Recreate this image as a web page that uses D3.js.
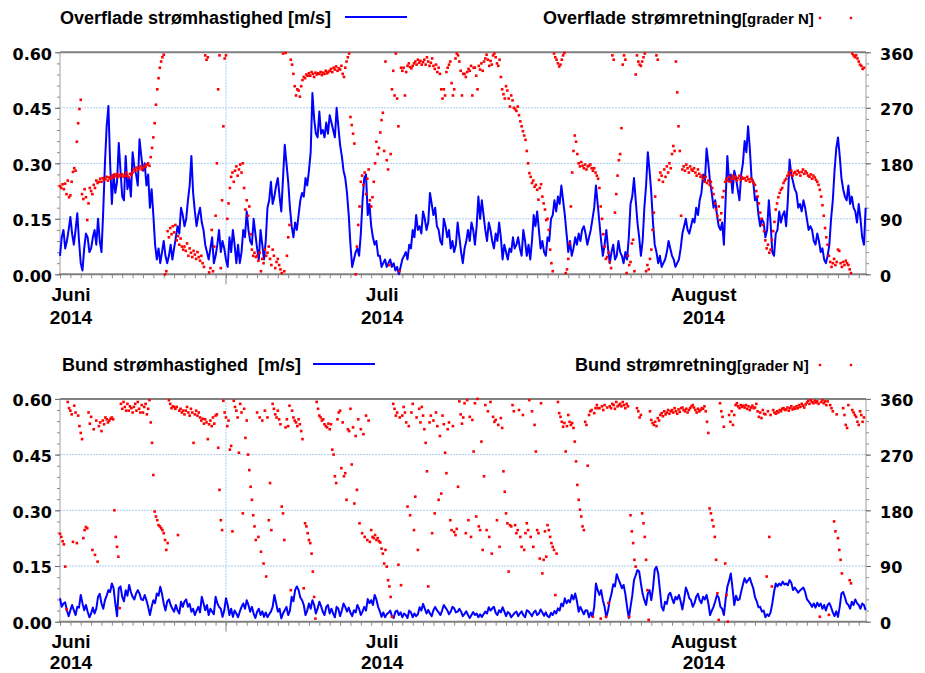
<!DOCTYPE html>
<html lang="no">
<head>
<meta charset="utf-8">
<title>Strømhastighed og strømretning, juni - august 2014</title>
<script src="https://d3js.org/d3.v7.min.js"></script>
<style>
  body { margin: 0; background: #fff; }
  svg { display: block; }
  .title { font-family: "Liberation Sans", Arial, sans-serif; font-weight: bold; font-size: 18px; white-space: pre; }
  .ylab text { font-family: "DejaVu Sans", Verdana, sans-serif; font-weight: bold; font-size: 16px; fill: #000; }
  .xlab { font-family: "Liberation Sans", Arial, sans-serif; font-weight: bold; font-size: 19px; }
</style>
</head>
<body>
<script>
// ---- data: time is hours since 1 June 2014 00:00 ----
var speedStep = 4;   // hours between speed samples
var dirStep = 3;     // hours between direction samples

// surface speed [m/s], every 4 h
var overSpeed = [
  0.05, 0.10, 0.12, 0.07, 0.09, 0.12, 0.155, 0.11, 0.08, 0.12,
  0.165, 0.09, 0.03, 0.01, 0.07, 0.11, 0.10, 0.06, 0.07, 0.10,
  0.12, 0.08, 0.15, 0.09, 0.06, 0.17, 0.30, 0.40, 0.455, 0.30,
  0.19, 0.27, 0.22, 0.25, 0.355, 0.28, 0.21, 0.20, 0.32, 0.23,
  0.26, 0.21, 0.33, 0.29, 0.27, 0.24, 0.365, 0.32, 0.28, 0.30,
  0.24, 0.27, 0.18, 0.23, 0.16, 0.08, 0.04, 0.07, 0.03, 0.06,
  0.09, 0.05, 0.03, 0.05, 0.08, 0.04, 0.07, 0.10, 0.13, 0.11,
  0.18, 0.16, 0.13, 0.15, 0.20, 0.24, 0.32, 0.22, 0.17, 0.13,
  0.16, 0.18, 0.14, 0.12, 0.08, 0.06, 0.04, 0.07, 0.10, 0.03,
  0.05, 0.08, 0.12, 0.06, 0.09, 0.07, 0.04, 0.02, 0.10, 0.06,
  0.12, 0.08, 0.03, 0.08, 0.03, 0.06, 0.12, 0.10, 0.17, 0.12,
  0.09, 0.08, 0.15, 0.11, 0.07, 0.04, 0.12, 0.08, 0.04, 0.09,
  0.18, 0.20, 0.25, 0.19, 0.21, 0.24, 0.26, 0.21, 0.17, 0.26,
  0.35, 0.30, 0.25, 0.18, 0.13, 0.10, 0.14, 0.12, 0.16, 0.20,
  0.22, 0.21, 0.26, 0.24, 0.28, 0.33, 0.49, 0.42, 0.38, 0.37,
  0.44, 0.38, 0.39, 0.37, 0.41, 0.38, 0.43, 0.41, 0.39, 0.37,
  0.45, 0.40, 0.35, 0.32, 0.28, 0.26, 0.22, 0.16, 0.08, 0.02,
  0.04, 0.06, 0.07, 0.05, 0.11, 0.20, 0.26, 0.27, 0.16, 0.19,
  0.13, 0.10, 0.08, 0.09, 0.05, 0.05, 0.02, 0.03, 0.04, 0.02,
  0.03, 0.04, 0.02, 0.03, 0.01, 0.02, 0.00, 0.02, 0.04, 0.05,
  0.06, 0.04, 0.08, 0.07, 0.12, 0.10, 0.16, 0.12, 0.13, 0.11,
  0.17, 0.15, 0.12, 0.14, 0.22, 0.19, 0.16, 0.18, 0.13, 0.12,
  0.09, 0.08, 0.15, 0.13, 0.10, 0.12, 0.07, 0.09, 0.06, 0.08,
  0.14, 0.10, 0.06, 0.03, 0.07, 0.09, 0.12, 0.09, 0.14, 0.12,
  0.08, 0.13, 0.21, 0.15, 0.20, 0.16, 0.12, 0.09, 0.14, 0.12,
  0.09, 0.07, 0.11, 0.09, 0.14, 0.10, 0.04, 0.08, 0.06, 0.04,
  0.07, 0.06, 0.10, 0.07, 0.08, 0.10, 0.07, 0.05, 0.12, 0.09,
  0.05, 0.08, 0.04, 0.09, 0.16, 0.13, 0.17, 0.12, 0.07, 0.09,
  0.06, 0.05, 0.10, 0.09, 0.15, 0.16, 0.20, 0.17, 0.21, 0.19,
  0.24, 0.20, 0.16, 0.11, 0.06, 0.09, 0.05, 0.07, 0.10, 0.08,
  0.11, 0.09, 0.12, 0.13, 0.11, 0.08, 0.10, 0.12, 0.15, 0.18,
  0.24, 0.19, 0.14, 0.09, 0.05, 0.08, 0.12, 0.07, 0.03, 0.06,
  0.08, 0.04, 0.05, 0.09, 0.06, 0.05, 0.03, 0.06, 0.04, 0.10,
  0.19, 0.21, 0.26, 0.20, 0.14, 0.10, 0.05, 0.09, 0.18, 0.24,
  0.33, 0.28, 0.22, 0.14, 0.08, 0.06, 0.03, 0.05, 0.02, 0.03,
  0.04, 0.06, 0.09, 0.07, 0.05, 0.04, 0.02, 0.03, 0.04, 0.07,
  0.11, 0.13, 0.15, 0.12, 0.11, 0.13, 0.15, 0.14, 0.18, 0.16,
  0.20, 0.22, 0.27, 0.25, 0.34, 0.30, 0.25, 0.22, 0.18, 0.20,
  0.16, 0.13, 0.12, 0.14, 0.08, 0.20, 0.32, 0.25, 0.27, 0.22,
  0.28, 0.26, 0.23, 0.20, 0.27, 0.30, 0.36, 0.33, 0.40, 0.34,
  0.26, 0.25, 0.20, 0.21, 0.16, 0.13, 0.15, 0.14, 0.10, 0.12,
  0.20, 0.14, 0.06, 0.05, 0.11, 0.12, 0.17, 0.14, 0.16, 0.17,
  0.13, 0.20, 0.31, 0.27, 0.25, 0.23, 0.22, 0.18, 0.19, 0.17,
  0.20, 0.18, 0.15, 0.12, 0.13, 0.12, 0.09, 0.08, 0.11, 0.09,
  0.06, 0.07, 0.04, 0.03, 0.05, 0.08, 0.15, 0.20, 0.28, 0.34,
  0.37, 0.32, 0.26, 0.23, 0.21, 0.20, 0.24, 0.19, 0.21, 0.18,
  0.17, 0.14, 0.19, 0.15, 0.10, 0.08, 0.18
];

// surface direction [degrees N], every 3 h (two days per row)
var overDir = [
  143, 140, 146, 138, 147, 130, 152, 125,  128, 150, 166, 172, 168, 215, 245, 268,
  283, 130, 122, 138, 125, 88, 115, 140,   135, 130, 145, 140, 152, 148, 150, 155,
  150, 156, 153, 155, 158, 152, 157, 155,  160, 157, 162, 159, 163, 158, 161, 160,
  162, 158, 160, 165, 160, 157, 163, 161,  165, 170, 168, 173, 169, 172, 175, 170,
  172, 176, 174, 178, 180, 176, 190, 205,  222, 245, 275, 300, 318, 335, 345, 352,
  356, 0, 5, 70, 60, 75, 65, 78,           68, 80, 55, 62, 48, 58, 45, 40,
  45, 38, 50, 30, 42, 35, 28, 38,          32, 25, 36, 28, 22, 30, 18, 12,
  355, 348, 352, 3, 10, 72, 5, 45,         95, 180, 300, 355, 10, 120, 240, 350,
  355, 90, 115, 140, 158, 165, 150, 168,   175, 160, 170, 178, 165, 180, 140, 105,
  120, 95, 110, 65, 40, 30, 35, 28,        30, 22, 35, 5, 25, 18, 40, 30,
  35, 45, 25, 15, 40, 30, 10, 20,          25, 15, 8, 2, 358, 5, 359, 30,
  60, 80, 348, 340, 325, 305, 290, 300,    298, 288, 305, 315, 320, 318, 324, 322,
  326, 322, 328, 325, 320, 327, 324, 326,  325, 328, 323, 327, 325, 330, 326, 328,
  330, 333, 328, 335, 332, 337, 330, 334,  332, 338, 325, 320, 335, 345, 352, 358,
  255, 242, 228, 212, 0, 45, 80, 110,      150, 160, 145, 165, 130, 155, 170, 120,
  110, 125, 150, 180, 215, 195, 205, 230,  250, 262, 200, 345, 185, 170, 15, 195,
  300, 330, 290, 358, 285, 240, 5, 335,    330, 335, 290, 328, 338, 342, 336, 334,
  338, 342, 345, 340, 348, 343, 346, 340,  344, 348, 340, 352, 345, 338, 343, 350,
  338, 333, 340, 328, 335, 325, 300, 285,  300, 290, 328, 335, 340, 345, 310, 290,
  300, 350, 358, 355, 345, 330, 290, 325,  325, 320, 328, 333, 330, 338, 290, 335,
  335, 322, 300, 338, 332, 342, 330, 345,  350, 356, 348, 338, 346, 340, 355, 358,
  352, 342, 338, 348, 320, 300, 292, 285,  305, 298, 285, 272, 290, 282, 270, 268,
  265, 272, 258, 248, 240, 232, 225, 218,  200, 180, 164, 158, 148, 152, 142, 145,
  137, 121, 140, 146, 126, 115, 105, 88,   90, 72, 40, 18, 5, 358, 352, 348,
  342, 337, 340, 348, 355, 359, 2, 8,      25, 50, 110, 165, 200, 225, 215, 195,
  180, 175, 182, 176, 172, 178, 170, 175,  176, 178, 172, 168, 172, 165, 160, 155,
  140, 110, 90, 65, 45, 25, 28, 35,        20, 10, 355, 348, 100, 130, 160, 185,
  195, 237, 340, 355, 348, 2, 30, 15,      20, 50, 56, 5, 324, 355, 345, 340,
  338, 345, 352, 358, 5, 15, 8, 25,        40, 72, 100, 126, 355, 348, 153, 165,
  160, 150, 170, 158, 175, 165, 180, 172,  195, 208, 200, 345, 295, 240, 200, 95,
  170, 175, 168, 178, 172, 165, 175, 170,  168, 172, 165, 160, 170, 163, 158, 160,
  155, 150, 158, 148, 152, 145, 150, 140,  130, 115, 105, 95, 110, 88, 99, 125,
  135, 150, 155, 152, 158, 150, 155, 160,  155, 158, 152, 156, 160, 153, 157, 155,
  156, 152, 158, 154, 150, 155, 152, 148,  145, 135, 126, 115, 100, 90, 80, 70,
  55, 42, 48, 35, 40, 56, 70, 85,          105, 115, 125, 132, 137, 140, 148, 152,
  155, 160, 165, 162, 168, 160, 164, 166,  162, 168, 165, 160, 166, 170, 163, 167,
  164, 160, 158, 162, 155, 160, 157, 153,  150, 145, 137, 126, 112, 95, 75, 60,
  48, 30, 20, 12, 18, 25, 15, 20,          40, 38, 18, 12, 20, 15, 22, 18,
  15, 8, 2, 358, 355, 352, 355, 350,       345, 340, 338, 333, 335
];

// bottom speed [m/s], every 4 h
var bundSpeed = [
  0.063, 0.040, 0.049, 0.052, 0.030, 0.015, 0.031, 0.045, 0.031, 0.018,
  0.040, 0.038, 0.072, 0.050, 0.031, 0.045, 0.027, 0.012, 0.022, 0.038,
  0.022, 0.035, 0.067, 0.075, 0.049, 0.035, 0.058, 0.070, 0.085, 0.080,
  0.103, 0.090, 0.049, 0.015, 0.090, 0.095, 0.067, 0.055, 0.085, 0.070,
  0.099, 0.080, 0.067, 0.060, 0.076, 0.085, 0.076, 0.060, 0.058, 0.072,
  0.058, 0.040, 0.018, 0.040, 0.058, 0.050, 0.076, 0.070, 0.094, 0.075,
  0.049, 0.030, 0.054, 0.060, 0.045, 0.035, 0.027, 0.045, 0.031, 0.022,
  0.054, 0.040, 0.054, 0.060, 0.040, 0.048, 0.027, 0.035, 0.018, 0.030,
  0.040, 0.025, 0.067, 0.050, 0.031, 0.045, 0.018, 0.035, 0.027, 0.020,
  0.067, 0.050, 0.040, 0.035, 0.013, 0.030, 0.063, 0.045, 0.018, 0.035,
  0.013, 0.030, 0.022, 0.012, 0.027, 0.040, 0.049, 0.035, 0.058, 0.045,
  0.027, 0.040, 0.022, 0.010, 0.027, 0.035, 0.018, 0.028, 0.013, 0.025,
  0.012, 0.020, 0.027, 0.040, 0.072, 0.050, 0.027, 0.035, 0.009, 0.022,
  0.031, 0.040, 0.018, 0.030, 0.067, 0.055, 0.085, 0.095, 0.085, 0.065,
  0.058, 0.045, 0.018, 0.030, 0.049, 0.035, 0.058, 0.045, 0.022, 0.035,
  0.054, 0.042, 0.027, 0.018, 0.040, 0.045, 0.022, 0.035, 0.022, 0.012,
  0.040, 0.035, 0.015, 0.030, 0.049, 0.040, 0.027, 0.038, 0.024, 0.015,
  0.031, 0.025, 0.045, 0.035, 0.018, 0.028, 0.040, 0.030, 0.061, 0.050,
  0.058, 0.045, 0.072, 0.060, 0.040, 0.028, 0.013, 0.025, 0.012, 0.020,
  0.024, 0.030, 0.015, 0.010, 0.027, 0.030, 0.018, 0.025, 0.012, 0.022,
  0.018, 0.010, 0.030, 0.025, 0.012, 0.022, 0.015, 0.020, 0.039, 0.030,
  0.048, 0.035, 0.022, 0.032, 0.022, 0.015, 0.031, 0.040, 0.031, 0.025,
  0.018, 0.030, 0.045, 0.038, 0.031, 0.020, 0.027, 0.040, 0.036, 0.025,
  0.027, 0.035, 0.027, 0.015, 0.021, 0.028, 0.018, 0.010, 0.018, 0.026,
  0.018, 0.022, 0.012, 0.020, 0.013, 0.020, 0.027, 0.022, 0.039, 0.030,
  0.036, 0.040, 0.024, 0.018, 0.031, 0.025, 0.039, 0.028, 0.015, 0.026,
  0.022, 0.012, 0.018, 0.024, 0.027, 0.015, 0.022, 0.028, 0.018, 0.012,
  0.031, 0.028, 0.022, 0.015, 0.025, 0.030, 0.018, 0.022, 0.033, 0.025,
  0.016, 0.025, 0.015, 0.012, 0.024, 0.018, 0.029, 0.022, 0.036, 0.030,
  0.049, 0.042, 0.063, 0.050, 0.058, 0.052, 0.072, 0.060, 0.076, 0.055,
  0.027, 0.040, 0.030, 0.020, 0.031, 0.030, 0.012, 0.025, 0.013, 0.040,
  0.103, 0.085, 0.072, 0.085, 0.058, 0.040, 0.012, 0.030, 0.058, 0.075,
  0.101, 0.095, 0.128, 0.115, 0.103, 0.090, 0.099, 0.075, 0.040, 0.010,
  0.040, 0.070, 0.112, 0.125, 0.139, 0.135, 0.103, 0.075, 0.058, 0.045,
  0.076, 0.085, 0.058, 0.090, 0.140, 0.148, 0.130, 0.085, 0.040, 0.030,
  0.054, 0.048, 0.072, 0.078, 0.063, 0.050, 0.067, 0.060, 0.072, 0.055,
  0.033, 0.060, 0.092, 0.080, 0.063, 0.058, 0.040, 0.050, 0.067, 0.075,
  0.058, 0.050, 0.067, 0.060, 0.072, 0.050, 0.018, 0.030, 0.040, 0.055,
  0.072, 0.065, 0.040, 0.035, 0.018, 0.060, 0.094, 0.110, 0.130, 0.090,
  0.045, 0.070, 0.058, 0.060, 0.081, 0.100, 0.117, 0.105, 0.112, 0.118,
  0.103, 0.090, 0.066, 0.055, 0.039, 0.040, 0.027, 0.030, 0.012, 0.020,
  0.015, 0.025, 0.049, 0.080, 0.103, 0.095, 0.103, 0.098, 0.108, 0.100,
  0.103, 0.098, 0.112, 0.105, 0.085, 0.092, 0.085, 0.078, 0.084, 0.088,
  0.092, 0.080, 0.061, 0.055, 0.048, 0.040, 0.049, 0.038, 0.051, 0.042,
  0.049, 0.035, 0.045, 0.030, 0.045, 0.050, 0.039, 0.025, 0.015, 0.028,
  0.013, 0.040, 0.076, 0.080, 0.066, 0.050, 0.045, 0.035, 0.054, 0.045,
  0.060, 0.050, 0.045, 0.035, 0.049, 0.045, 0.031
];

// bottom direction [degrees N], every 3 h (two days per row)
var bundDir = [
  142, 137, 130, 125, 89, 20, 355, 345,    341, 335, 129, 349, 338, 127, 333, 316,
  305, 295, 135, 148, 153, 151, 338, 320,  331, 116, 311, 108, 325, 97, 316, 322,
  308, 325, 319, 330, 327, 322, 325, 328,  330, 327, 180, 137, 121, 105, 22, 352,
  344, 355, 347, 341, 352, 341, 348, 345,  338, 347, 352, 341, 355, 344, 338, 350,
  338, 347, 352, 335, 344, 358, 322, 289,  237, 178, 170, 164, 156, 154, 151, 148,
  143, 132, 116, 127, 358, 352, 345, 348,  347, 344, 347, 140, 341, 344, 338, 341,
  335, 341, 347, 338, 333, 344, 338, 289,  335, 341, 333, 338, 330, 325, 328, 320,
  327, 322, 295, 319, 325, 316, 330, 320,  333, 335, 281, 213, 164, 148, 357, 338,
  330, 316, 325, 278, 284, 146, 357, 347,  341, 330, 273, 352, 338, 175, 344, 297,
  325, 270, 245, 218, 197, 172, 154, 132,  338, 137, 330, 113, 325, 94, 341, 73,
  330, 164, 224, 148, 352, 344, 335, 330,  341, 327, 319, 186, 175, 132, 314, 327,
  316, 349, 51, 341, 330, 325, 322, 316,   327, 319, 308, 295, 54, 159, 154, 143,
  132, 127, 110, 81, 40, 5, 355, 344,      333, 330, 325, 327, 319, 316, 314, 320,
  311, 319, 278, 270, 235, 224, 327, 338,  341, 248, 322, 235, 240, 197, 311, 308,
  344, 254, 314, 191, 300, 213, 327, 159,  311, 143, 303, 137, 333, 132, 325, 129,
  148, 137, 135, 140, 132, 135, 130, 128,  118, 110, 94, 116, 89, 67, 57, 40,
  8, 352, 344, 333, 338, 92, 330, 59,      333, 347, 338, 322, 186, 316, 172, 338,
  352, 148, 202, 330, 116, 344, 322, 347,  333, 311, 289, 243, 57, 322, 333, 143,
  325, 175, 338, 316, 197, 300, 207, 333,  319, 273, 240, 311, 322, 164, 148, 316,
  145, 140, 150, 218, 356, 335, 320, 330,  353, 143, 358, 164, 331, 137, 326, 275,
  353, 170, 360, 154, 148, 291, 116, 235,  350, 148, 340, 137, 355, 110, 331, 323,
  326, 164, 318, 121, 329, 313, 243, 210,  175, 159, 81, 156, 154, 350, 340, 156,
  143, 148, 342, 137, 121, 334, 116, 143,  159, 148, 358, 137, 340, 121, 318, 275,
  148, 143, 102, 353, 78, 100, 146, 105,   156, 148, 137, 127, 121, 116, 43, 110,
  355, 337, 331, 323, 315, 321, 275, 316,  334, 323, 318, 321, 313, 291, 259, 221,
  197, 181, 170, 154, 148, 323, 318, 252,  334, 340, 342, 8, 337, 345, 350, 345,
  345, 5, 348, 342, 350, 8, 346, 30,       348, 345, 352, 350, 344, 355, 348, 350,
  352, 348, 355, 350, 345, 352, 348, 8,    172, 146, 127, 100, 89, 345, 340, 330,
  334, 175, 159, 137, 100, 51, 3, 340,     326, 321, 318, 323, 316, 329, 325, 334,
  337, 332, 340, 335, 338, 342, 336, 340,  342, 338, 345, 340, 336, 343, 339, 345,
  346, 342, 340, 344, 338, 342, 345, 348,  350, 346, 342, 338, 344, 340, 342, 345,
  344, 348, 340, 323, 305, 183, 175, 164,  154, 137, 100, 46, 3, 353, 340, 331,
  315, 94, 43, 0, 334, 323, 340, 318,      334, 350, 353, 348, 345, 350, 347, 349,
  346, 350, 344, 348, 342, 346, 349, 345,  346, 352, 340, 331, 338, 329, 342, 336,
  335, 73, 340, 137, 334, 57, 342, 338,    336, 340, 338, 342, 340, 344, 345, 342,
  343, 346, 341, 345, 348, 343, 346, 344,  348, 345, 350, 347, 352, 349, 346, 351,
  354, 357, 352, 358, 355, 353, 357, 354,  356, 352, 8, 355, 358, 353, 356, 350,
  356, 11, 350, 345, 340, 162, 146, 335,   135, 116, 100, 78, 345, 334, 318, 313,
  350, 67, 62, 342, 338, 334, 331, 323,    318, 340, 334, 323, 330
];

var speedTicks = [0, 0.15, 0.30, 0.45, 0.60];
var dirTicks = [0, 90, 180, 270, 360];
var monthLabels = ["Juni", "Juli", "August"];
var monthStarts = [Date.UTC(2014, 5, 1), Date.UTC(2014, 6, 1), Date.UTC(2014, 7, 1)];
var markerDay = Date.UTC(2014, 5, 17);

// ---- layout ----
var w = 925, h = 673;
var left = 60, right = 866;
var hour = 3600 * 1000;
var t0 = Date.UTC(2014, 5, 1);
var tEnd = t0 + 77.7 * 24 * hour;

var xScale = d3.scaleUtc()
    .domain([new Date(t0), new Date(tEnd)])
    .range([left, right]);

var svg = d3.select("body").append("svg")
    .attr("width", w)
    .attr("height", h);

var panels = [
  {top: 52.3, bottom: 274.3, speed: overSpeed, dir: overDir,
   speedTitle: "Overflade strømhastighed [m/s]", dirTitle: "Overflade strømretning",
   titleX: 60, titleY: 24, lineX: [345, 407], lineY: 17, dirTitleX: 543, dotY: 18,
   monthDy: [27, 50]},
  {top: 398.9, bottom: 621.7, speed: bundSpeed, dir: bundDir,
   speedTitle: "Bund strømhastighed  [m/s]", dirTitle: "Bund strømretning",
   titleX: 62, titleY: 371, lineX: [313, 375], lineY: 364, dirTitleX: 575, dotY: 365,
   monthDy: [26, 47]}
];

panels.forEach(drawPanel);

function drawPanel(p) {
  var yL = d3.scaleLinear().domain([0, 0.6]).range([p.bottom, p.top]);
  var yR = d3.scaleLinear().domain([0, 360]).range([p.bottom, p.top]);
  var g = svg.append("g");

  // dotted grid
  g.selectAll("line.hgrid")
    .data(speedTicks.slice(1, 4))
    .enter().append("line")
    .attr("x1", left).attr("x2", right)
    .attr("y1", d => yL(d)).attr("y2", d => yL(d))
    .attr("stroke", "#a8cef0")
    .attr("stroke-dasharray", "2,1");

  g.append("line")
    .attr("x1", xScale(markerDay)).attr("x2", xScale(markerDay))
    .attr("y1", p.top).attr("y2", p.bottom)
    .attr("stroke", "#a8cef0")
    .attr("stroke-dasharray", "2,1");

  // x axis: daily ticks
  var days = d3.utcDay.range(new Date(t0), new Date(tEnd));
  var xAxis = d3.axisBottom(xScale)
    .tickValues(days)
    .tickSize(4)
    .tickFormat("");
  g.append("g")
    .attr("transform", "translate(0," + p.bottom + ")")
    .call(xAxis)
    .call(a => a.select(".domain").remove())
    .selectAll("line").attr("stroke", "#888");

  g.append("line")
    .attr("x1", xScale(markerDay)).attr("x2", xScale(markerDay))
    .attr("y1", p.bottom).attr("y2", p.bottom + 10)
    .attr("stroke", "#888");

  // left axis
  var minorL = d3.range(0, 0.6001, 0.03);
  g.append("g")
    .attr("transform", "translate(" + left + ",0)")
    .call(d3.axisLeft(yL).tickValues(minorL).tickSize(3).tickFormat(""))
    .call(a => a.select(".domain").remove())
    .selectAll("line").attr("stroke", "#888");

  g.append("g")
    .attr("class", "ylab")
    .attr("transform", "translate(" + left + ",0)")
    .call(d3.axisLeft(yL).tickValues(speedTicks).tickSize(5).tickPadding(3)
      .tickFormat(d3.format(".2f")))
    .call(a => a.select(".domain").remove())
    .call(a => a.selectAll("text").attr("dy", "0.42em"))
    .selectAll("line").attr("stroke", "#666");

  // right axis
  var minorR = d3.range(0, 361, 18);
  g.append("g")
    .attr("transform", "translate(" + right + ",0)")
    .call(d3.axisRight(yR).tickValues(minorR).tickSize(3).tickFormat(""))
    .call(a => a.select(".domain").remove())
    .selectAll("line").attr("stroke", "#888");

  g.append("g")
    .attr("class", "ylab")
    .attr("transform", "translate(" + right + ",0)")
    .call(d3.axisRight(yR).tickValues(dirTicks).tickSize(5).tickPadding(9)
      .tickFormat(d3.format("d")))
    .call(a => a.select(".domain").remove())
    .call(a => a.selectAll("text").attr("dy", "0.42em"))
    .selectAll("line").attr("stroke", "#666");

  // frame
  g.append("line").attr("x1", left).attr("x2", left)
    .attr("y1", p.top).attr("y2", p.bottom).attr("stroke", "#a0a0a0");
  g.append("line").attr("x1", right).attr("x2", right)
    .attr("y1", p.top).attr("y2", p.bottom).attr("stroke", "#a0a0a0");
  g.append("line").attr("x1", left).attr("x2", right)
    .attr("y1", p.top).attr("y2", p.top).attr("stroke", "#808080").attr("stroke-width", 2);
  g.append("line").attr("x1", left - 1).attr("x2", right + 1)
    .attr("y1", p.bottom).attr("y2", p.bottom).attr("stroke", "#808080").attr("stroke-width", 2);

  // speed line
  var line = d3.line()
    .x((d, i) => xScale(new Date(t0 + i * speedStep * hour)))
    .y(d => yL(d));
  g.append("path")
    .datum(p.speed)
    .attr("d", line)
    .attr("fill", "none")
    .attr("stroke", "#0000ff")
    .attr("stroke-width", 2)
    .attr("stroke-linejoin", "round");

  // direction dots
  var s = 2.6;
  g.selectAll("rect.dir")
    .data(p.dir)
    .enter().append("rect")
    .attr("x", (d, i) => xScale(new Date(t0 + i * dirStep * hour)) - s / 2)
    .attr("y", d => yR(d) - s / 2)
    .attr("width", s).attr("height", s)
    .attr("fill", "#ff0000");

  // month labels
  monthStarts.forEach(function (m, k) {
    var cx = xScale(m) + 11;
    [monthLabels[k], "2014"].forEach(function (txt, j) {
      var t = g.append("text")
        .attr("class", "xlab")
        .attr("y", p.bottom + p.monthDy[j])
        .attr("text-anchor", "middle")
        .text(txt);
      var half = t.node().getComputedTextLength() / 2;
      t.attr("x", Math.max(cx, 48 + half));
    });
  });

  // legend
  g.append("text").attr("class", "title")
    .attr("x", p.titleX).attr("y", p.titleY)
    .text(p.speedTitle);
  g.append("line")
    .attr("x1", p.lineX[0]).attr("x2", p.lineX[1])
    .attr("y1", p.lineY).attr("y2", p.lineY)
    .attr("stroke", "#0000ff").attr("stroke-width", 2);

  var dt = g.append("text").attr("class", "title")
    .attr("x", p.dirTitleX).attr("y", p.titleY);
  dt.append("tspan").text(p.dirTitle);
  dt.append("tspan").attr("font-size", "15px").text("[grader N]");

  g.selectAll("rect.key")
    .data([820, 851])
    .enter().append("rect")
    .attr("x", d => d - 1.2).attr("y", p.dotY - 1.2)
    .attr("width", 2.4).attr("height", 2.4)
    .attr("fill", "#ff0000");
}
</script>
</body>
</html>
